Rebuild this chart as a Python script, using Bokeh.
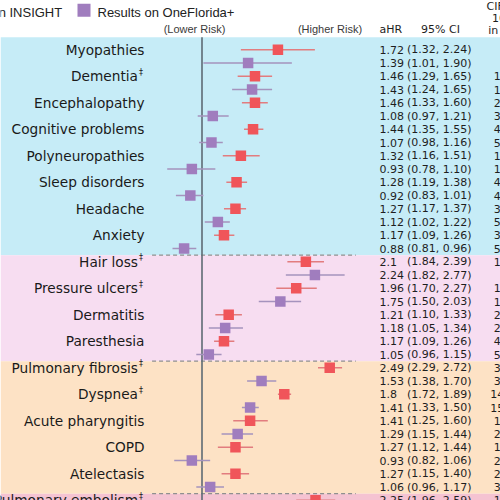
import math
from bokeh.plotting import figure
from bokeh.models import Range1d, LogScale, ColumnDataSource
from bokeh.core.properties import value
from bokeh.embed import file_html
from bokeh.resources import INLINE

# ---------------- data ----------------
conditions = ["Myopathies", "Dementia", "Encephalopathy", "Cognitive problems",
              "Polyneuropathies", "Sleep disorders", "Headache", "Anxiety",
              "Hair loss", "Pressure ulcers", "Dermatitis", "Paresthesia",
              "Pulmonary fibrosis", "Dyspnea", "Acute pharyngitis", "COPD",
              "Atelectasis", "Pulmonary embolism"]
dagger = [False, True, False, False, False, False, False, False,
          True, True, False, False, True, True, False, False, False, True]
group_names = ["Nervous system", "Skin", "Respiratory", "Circulatory"]
group_sizes = [8, 4, 5, 1]
group_colors = ["#c6ecf7", "#f7ddf1", "#fde2c5", "#f5c3d2"]

series_names = ["Results on INSIGHT", "Results on OneFlorida+"]
series_colors = ["#f0555a", "#a07dbe"]
series_line_colors = ["#e27c7f", "#a593bd"]

insight_hr = [1.72, 1.46, 1.46, 1.44, 1.32, 1.28, 1.27, 1.17, 2.1, 1.96, 1.21, 1.17,
              2.49, 1.8, 1.41, 1.27, 1.27, 2.25]
insight_lo = [1.32, 1.29, 1.33, 1.35, 1.16, 1.19, 1.17, 1.09, 1.84, 1.70, 1.10, 1.09,
              2.29, 1.72, 1.25, 1.12, 1.15, 1.96]
insight_hi = [2.24, 1.65, 1.60, 1.55, 1.51, 1.38, 1.37, 1.26, 2.39, 2.27, 1.33, 1.26,
              2.72, 1.89, 1.60, 1.44, 1.40, 2.59]
insight_cif = [None, 1.52, 2.95, 4.87, 1.63, 4.36, 3.72, 3.18, 1.07, 1.35, 2.41, 4.58,
               3.06, 14.31, 1.94, 1.86, 2.19, 1.71]

onefl_hr = [1.39, 1.43, 1.08, 1.07, 0.93, 0.92, 1.12, 0.88, 2.24, 1.75, 1.18, 1.05,
            1.53, 1.41, 1.29, 0.93, 1.06]
onefl_lo = [1.01, 1.24, 0.97, 0.98, 0.78, 0.83, 1.02, 0.81, 1.82, 1.50, 1.05, 0.96,
            1.38, 1.33, 1.15, 0.82, 0.96]
onefl_hi = [1.90, 1.65, 1.21, 1.16, 1.10, 1.01, 1.22, 0.96, 2.77, 2.03, 1.34, 1.15,
            1.70, 1.50, 1.44, 1.06, 1.17]
onefl_cif = [None, 1.48, 3.41, 5.12, 1.21, 4.05, 5.27, 5.46, None, 1.62, 2.73, 5.83,
             3.52, 15.62, 2.37, 2.64, 3.45]

hr_panel_limits = [0.7, 3.0]
col_headers = ["aHR", "95% CI"]
cif_header = ["CIF per", "1000", "in Pos."]
risk_labels = ["(Lower Risk)", "(Higher Risk)"]

# ---------------- layout constants ----------------
W, H = 500, 500
ROW0, ROW_H = 49.3, 13.25          # screen y of first row, row pitch
HR1_X, PX_LN = 201.5, 140.0        # screen x of HR=1, px per ln unit
LABEL_X, AHR_X, CI_X, CIF_X = 144, 379, 406.5, 495

def row_of(sy):
    return (sy - ROW0) / ROW_H

p = figure(width=W, height=H, output_backend="svg", toolbar_location=None,
           x_range=Range1d(0, W),
           y_range=Range1d(row_of(H), row_of(0)),
           x_axis_location=None, y_axis_location=None, min_border=0)
p.grid.visible = False
p.outline_line_color = None
p.background_fill_color = "white"
p.border_fill_color = "white"
p.extra_x_ranges = {"hr": Range1d(math.exp((0 - HR1_X) / PX_LN),
                                  math.exp((W - HR1_X) / PX_LN))}
p.extra_x_scales = {"hr": LogScale()}

# ---------------- bands ----------------
tops, bottoms = [], []
start = 0
for gi, n in enumerate(group_sizes):
    tops.append(-0.95 if gi == 0 else start * 2 - 0.5)
    bottoms.append((start + n) * 2 - 0.5)
    start += n
p.quad(left=0, right=W, top=tops, bottom=bottoms, fill_color=group_colors,
       line_color=None)

# separators
sep_y = bottoms[:-1]
p.segment(x0=[hr_panel_limits[0]] * len(sep_y), x1=[hr_panel_limits[1]] * len(sep_y),
          y0=sep_y, y1=sep_y, x_range_name="hr", line_color="#8f8f8f",
          line_width=1.2, line_dash="4 3")

# reference line at HR = 1
p.segment(x0=[1], x1=[1], y0=[-0.95], y1=[bottoms[-1]], x_range_name="hr",
          line_color="#5e6b74", line_width=1.6)

# ---------------- forest ----------------
series = [(insight_hr, insight_lo, insight_hi, insight_cif, 0),
          (onefl_hr, onefl_lo, onefl_hi, onefl_cif, 1)]
tf = value("DejaVu Sans")
for hr, lo, hi, cif, si in series:
    rows = [2 * k + si for k in range(len(hr))]
    src = ColumnDataSource(dict(
        row=rows, hr=hr, lo=lo, hi=hi,
        ahr=[f"{v:g}" for v in hr],
        ci=[f"({a:.2f}, {b:.2f})" for a, b in zip(lo, hi)]))
    p.segment(x0="lo", x1="hi", y0="row", y1="row", source=src, x_range_name="hr",
              line_color=series_line_colors[si], line_width=1.4)
    p.scatter(x="hr", y="row", source=src, x_range_name="hr", marker="square",
              size=10.5, fill_color=series_colors[si], line_color=None)
    p.text(x=AHR_X, y="row", text="ahr", source=src, text_font=tf,
           text_font_size="11px", text_color="#1e1e1e", text_baseline="middle",
           text_align="left")
    p.text(x=CI_X, y="row", text="ci", source=src, text_font=tf,
           text_font_size="11px", text_color="#1e1e1e", text_baseline="middle",
           text_align="left")
    crow = [r for r, c in zip(rows, cif) if c is not None]
    ctxt = [f"{c:.2f}" for c in cif if c is not None]
    p.text(x=[CIF_X] * len(crow), y=crow, text=ctxt, text_font=tf,
           text_font_size="11px", text_color="#1e1e1e", text_baseline="middle",
           text_align="center", x_offset=10.5)

# condition labels
lab_rows = [2 * k for k in range(len(conditions))]
plain_x = [LABEL_X - (6.5 if d else 0) for d in dagger]
p.text(x=plain_x, y=lab_rows, text=conditions, text_font=tf,
       text_font_size="13.7px", text_color="#1a1a1a", text_baseline="middle",
       text_align="right")
drows = [r for r, d in zip(lab_rows, dagger) if d]
p.text(x=[LABEL_X - 5.5] * len(drows), y=drows, text=["‡"] * len(drows), text_font=tf,
       text_font_size="8px", text_color="#1a1a1a", text_baseline="middle",
       text_align="left", y_offset=-4)

# ---------------- headers ----------------
lf = value("Liberation Sans")
p.text(x=[AHR_X, 440], y=[row_of(29)] * 2, text=col_headers, text_font=tf,
       text_font_size="11px", text_color="#1e1e1e", text_baseline="middle",
       text_align=["left", "center"])
p.text(x=[CIF_X] * 3, y=[row_of(5.5), row_of(17.5), row_of(29.5)], text=cif_header,
       text_font=tf, text_font_size="11px", text_color="#1e1e1e",
       text_baseline="middle", text_align="center", x_offset=10.5)
p.text(x=[194, 329.5], y=[row_of(28.5)] * 2, text=risk_labels, text_font=lf,
       text_font_size="11px", text_color="#3a3a3a", text_baseline="middle",
       text_align="center")

# legend (manual)
p.text(x=[61.7], y=[row_of(11.5)], text=[series_names[0]], text_font=lf,
       text_font_size="13px", text_color="#222222", text_baseline="middle",
       text_align="right")
p.scatter(x=[83.5], y=[row_of(9.8)], marker="square", size=13,
          fill_color=series_colors[1], line_color=None)
p.text(x=[97], y=[row_of(11.5)], text=[series_names[1]], text_font=lf,
       text_font_size="13px", text_color="#222222", text_baseline="middle",
       text_align="left")

open("out.html", "w").write(file_html(p, INLINE))
